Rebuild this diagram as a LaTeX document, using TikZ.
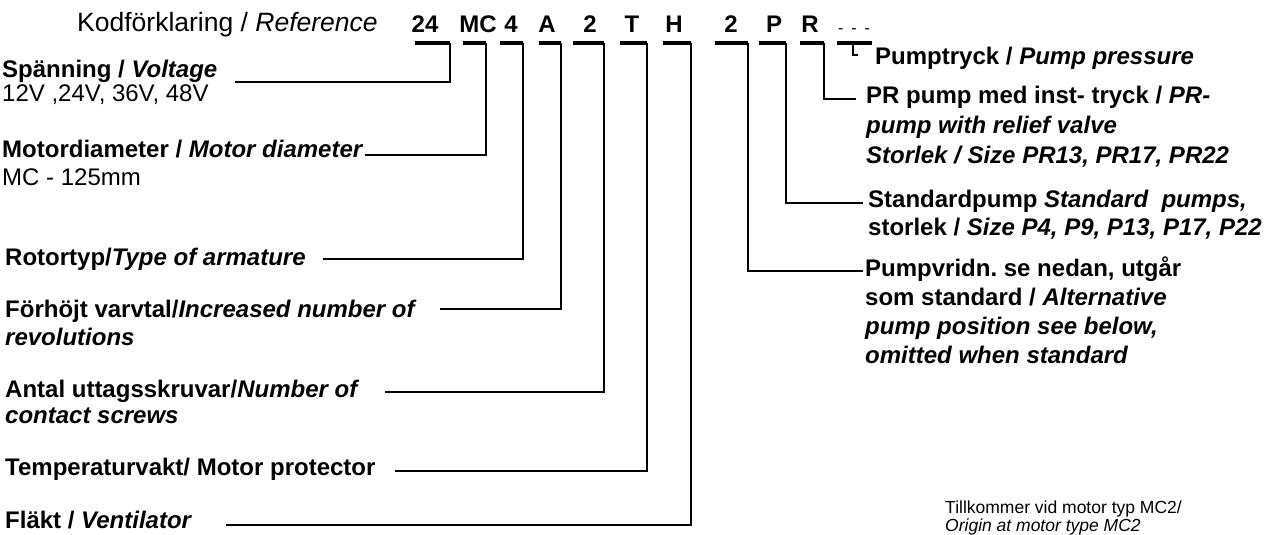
\documentclass[tikz,border=0pt]{standalone}
\usepackage{fontspec}
\setmainfont{Liberation Sans}
\frenchspacing
\usetikzlibrary{positioning}
\tikzset{
  codeLetter/.style={font=\fontsize{24}{24}\selectfont\bfseries, inner sep=0pt, anchor=base},
  keyLabel/.style={font=\fontsize{24}{28}\selectfont\bfseries, align=left, inner sep=0pt, anchor=base west},
  noteLabel/.style={font=\fontsize{17.5}{18}\selectfont, align=left, inner sep=0pt, anchor=base west},
  codeBar/.style={line width=4pt},
  leadLine/.style={line width=1.5pt}
}

\begin{document}
\begin{tikzpicture}[x=1pt,y=-1pt]
  \useasboundingbox (0,0) rectangle (1285,535);
  % title and code letters
  \node[keyLabel, font=\fontsize{26.5}{28}\selectfont] (title) at (77,32) {Kodförklaring / \textit{Reference}};
  \foreach \nm/\txt/\cx/\ba/\bb in {k24/24/425/415/450, kMC/MC/478/463/486, kRot/4/511/500/523,
      kVar/A/547/539/561, kSkr/2/590/573/604, kTemp/T/632/620/647, kFan/H/674/663/691,
      kVrid/2/731/715/748, kPump/P/774/759/786, kRel/R/810/800/824}{
    \node[codeLetter] (\nm) at (\cx,33) {\txt};
    \draw[codeBar] (\ba,43) -- (\bb,43) coordinate (\nm-end);
  }
  \node[codeLetter, font=\fontsize{16}{16}\selectfont] (kDots) at (854,34) {-\hspace{8pt}-\hspace{8pt}-};
  \draw[codeBar] (837,43) -- (872,43);
  \coordinate (kDots-tap) at (853,43);

  % left labels (multi-line nodes sit on their last baseline)
  \node[keyLabel, font=\fontsize{24}{24}\selectfont\bfseries] (spann) at (2,101) {Spänning / \textit{Voltage}\\{\mdseries 12V ,24V, 36V, 48V}};
  \node[keyLabel] (motdia) at (2,185) {Motordiameter / \textit{Motor diameter}\\{\mdseries MC - 125mm}};
  \node[keyLabel] (rotor) at (5,265) {Rotortyp/\textit{Type of armature}};
  \node[keyLabel] (varvt) at (5,345) {Förhöjt varvtal/\textit{Increased number of}\\\textit{revolutions}};
  \node[keyLabel, font=\fontsize{24}{26}\selectfont\bfseries] (skruv) at (5,423) {Antal uttagsskruvar/\textit{Number of}\\\textit{contact screws}};
  \node[keyLabel] (tempv) at (5,475) {Temperaturvakt/ Motor protector};
  \node[keyLabel] (flakt) at (5,528) {Fläkt / \textit{Ventilator}};

  % right labels
  \node[keyLabel] (ptryck) at (875,65) {Pumptryck / \textit{Pump pressure}};
  \node[keyLabel, font=\fontsize{24}{30}\selectfont\bfseries] (prpump) at (866,163) {PR pump med inst- tryck / \textit{PR-}\\\textit{pump with relief valve}\\\textit{Storlek / Size PR13, PR17, PR22}};
  \node[keyLabel] (stdp) at (868,235) {Standardpump \textit{Standard\ \ pumps,}\\storlek / \textit{Size P4, P9, P13, P17, P22}};
  \node[keyLabel, font=\fontsize{24}{29}\selectfont\bfseries] (vridn) at (865,363) {Pumpvridn. se nedan, utgår\\som standard / \textit{Alternative}\\\textit{pump position see below,}\\\textit{omitted when standard}};
  \node[noteLabel] (tillk) at (945,531) {Tillkommer vid motor typ MC2/\\\textit{Origin at motor type MC2}};

  % lead line ends
  \coordinate (spann-in) at (235,82);
  \coordinate (motdia-in) at (365,155);
  \coordinate (rotor-in) at (323,259);
  \coordinate (varvt-in) at (440,309);
  \coordinate (skruv-in) at (385,392);
  \coordinate (tempv-in) at (395,471);
  \coordinate (flakt-in) at (226,525);
  \coordinate (ptryck-in) at (858,55);
  \coordinate (prpump-in) at (856,99);
  \coordinate (stdp-in) at (863,203);
  \coordinate (vridn-in) at (863,271);

  % lead lines
  \draw[leadLine] (k24-end) |- (spann-in);
  \draw[leadLine] (kMC-end) |- (motdia-in);
  \draw[leadLine] (kRot-end) |- (rotor-in);
  \draw[leadLine] (kVar-end) |- (varvt-in);
  \draw[leadLine] (kSkr-end) |- (skruv-in);
  \draw[leadLine] (kTemp-end) |- (tempv-in);
  \draw[leadLine] (kFan-end) |- (flakt-in);
  \draw[leadLine] (kVrid-end) |- (vridn-in);
  \draw[leadLine] (kPump-end) |- (stdp-in);
  \draw[leadLine] (kRel-end) |- (prpump-in);
  \draw[leadLine] (kDots-tap) |- (ptryck-in);
\end{tikzpicture}
\end{document}
